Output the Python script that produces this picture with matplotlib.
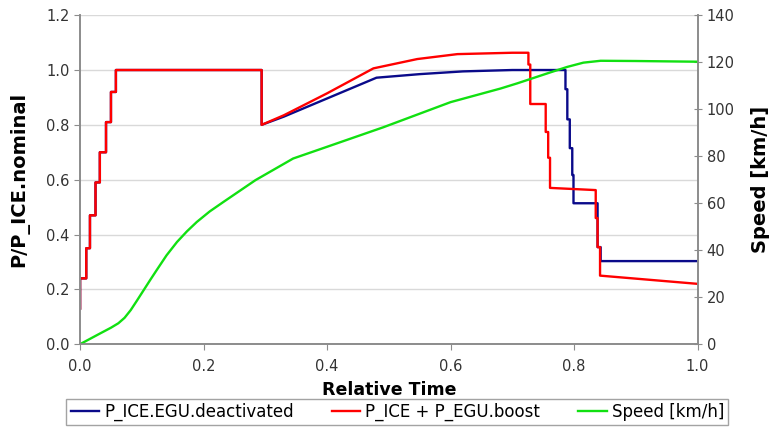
import numpy as np
import matplotlib
matplotlib.use("Agg")
import matplotlib.pyplot as plt

# P/P_ICE.nominal, boost (red): vertical steps as repeated x values
t_boost = [0, 0, 0.010, 0.010, 0.016, 0.016, 0.025, 0.025, 0.032, 0.032, 0.042, 0.042,
           0.050, 0.050, 0.058, 0.058, 0.294, 0.294, 0.33, 0.40, 0.475, 0.546, 0.611,
           0.70, 0.726, 0.726, 0.729, 0.729, 0.754, 0.754, 0.758, 0.758, 0.761, 0.761,
           0.835, 0.835, 0.838, 0.838, 0.842, 0.842, 1.0]
p_boost = [0.13, 0.24, 0.24, 0.35, 0.35, 0.47, 0.47, 0.59, 0.59, 0.70, 0.70, 0.81,
           0.81, 0.92, 0.92, 1.0, 1.0, 0.80, 0.835, 0.915, 1.006, 1.04, 1.058,
           1.063, 1.063, 1.02, 1.02, 0.876, 0.876, 0.774, 0.774, 0.68, 0.68, 0.57,
           0.562, 0.46, 0.46, 0.354, 0.354, 0.25, 0.22]

# P/P_ICE.nominal, EGU deactivated (blue)
t_deact = [0, 0, 0.010, 0.010, 0.016, 0.016, 0.025, 0.025, 0.032, 0.032, 0.042, 0.042,
           0.050, 0.050, 0.058, 0.058, 0.294, 0.294, 0.33, 0.48, 0.55, 0.62, 0.70,
           0.786, 0.786, 0.789, 0.789, 0.793, 0.793, 0.797, 0.797, 0.799, 0.799,
           0.838, 0.838, 0.843, 0.843, 1.0]
p_deact = [0.13, 0.24, 0.24, 0.35, 0.35, 0.47, 0.47, 0.59, 0.59, 0.70, 0.70, 0.81,
           0.81, 0.92, 0.92, 1.0, 1.0, 0.80, 0.83, 0.972, 0.985, 0.995, 1.0,
           1.0, 0.93, 0.93, 0.82, 0.82, 0.715, 0.715, 0.617, 0.617, 0.514,
           0.514, 0.354, 0.354, 0.303, 0.303]

# vehicle speed [km/h] (green, right axis)
t_speed = [0, 0.032, 0.050, 0.062, 0.072, 0.082, 0.092, 0.103, 0.114, 0.124, 0.140,
           0.157, 0.173, 0.189, 0.210, 0.232, 0.284, 0.345, 0.40, 0.491, 0.600,
           0.681, 0.708, 0.762, 0.789, 0.815, 0.843, 0.90, 1.0]
v_speed = [0, 4.5, 7.0, 8.9, 11.2, 14.5, 18.5, 23, 27.5, 31.5, 37.8,
           43.5, 48, 52, 56.5, 60.5, 69.8, 79, 84, 92.3, 103,
           108.8, 111, 115.7, 118, 119.8, 120.6, 120.5, 120.2]

GRAY = "#8c8c8c"
fig = plt.figure(figsize=(7.7, 4.34), dpi=100)
ax = fig.add_axes([0.104, 0.207, 0.802, 0.758])
ax2 = ax.twinx()

l1, = ax.plot(t_deact, p_deact, color="#0a0a8a", lw=1.7, label="P_ICE.EGU.deactivated")
l2, = ax.plot(t_boost, p_boost, color="#ff0000", lw=1.7, label="P_ICE + P_EGU.boost")
l3, = ax2.plot(t_speed, v_speed, color="#11e011", lw=1.7, label="Speed [km/h]")

ax.set_xlim(0, 1.0); ax.set_ylim(0, 1.2)
ax2.set_ylim(0, 140)
ax.set_xticks(np.arange(0, 1.01, 0.2))
ax.set_yticks(np.arange(0, 1.21, 0.2))
ax2.set_yticks(np.arange(0, 141, 20))
ax.xaxis.set_major_formatter(matplotlib.ticker.FormatStrFormatter("%.1f"))
ax.yaxis.set_major_formatter(matplotlib.ticker.FormatStrFormatter("%.1f"))
ax.grid(axis="y", color="#d9d9d9", lw=1)
ax.set_axisbelow(True)

for a in (ax, ax2):
    a.spines["top"].set_visible(False)
    for s in ("left", "right", "bottom"):
        a.spines[s].set_color(GRAY)
        a.spines[s].set_linewidth(1.2)
ax.tick_params(axis="both", colors=GRAY, labelcolor="#333333", labelsize=10.5, length=4)
ax.tick_params(axis="x", pad=7)
ax2.tick_params(axis="y", colors=GRAY, labelcolor="#333333", labelsize=10.5,
                length=6, direction="inout")

ax.set_xlabel("Relative Time", fontsize=12.5, fontweight="bold", labelpad=5)
ax.set_ylabel("P/P_ICE.nominal", fontsize=14, fontweight="bold", labelpad=12)
ax2.set_ylabel("Speed [km/h]", fontsize=14, fontweight="bold", labelpad=12)

leg = fig.legend(handles=[l1, l2, l3], loc="center", bbox_to_anchor=(0.516, 0.051),
                 ncol=3, fontsize=12, frameon=True, fancybox=False, handlelength=1.7,
                 handletextpad=0.3, columnspacing=2.3, borderpad=0.25)
leg.get_frame().set_edgecolor(GRAY)
leg.get_frame().set_linewidth(1.0)

fig.savefig("out.png", dpi=100)
